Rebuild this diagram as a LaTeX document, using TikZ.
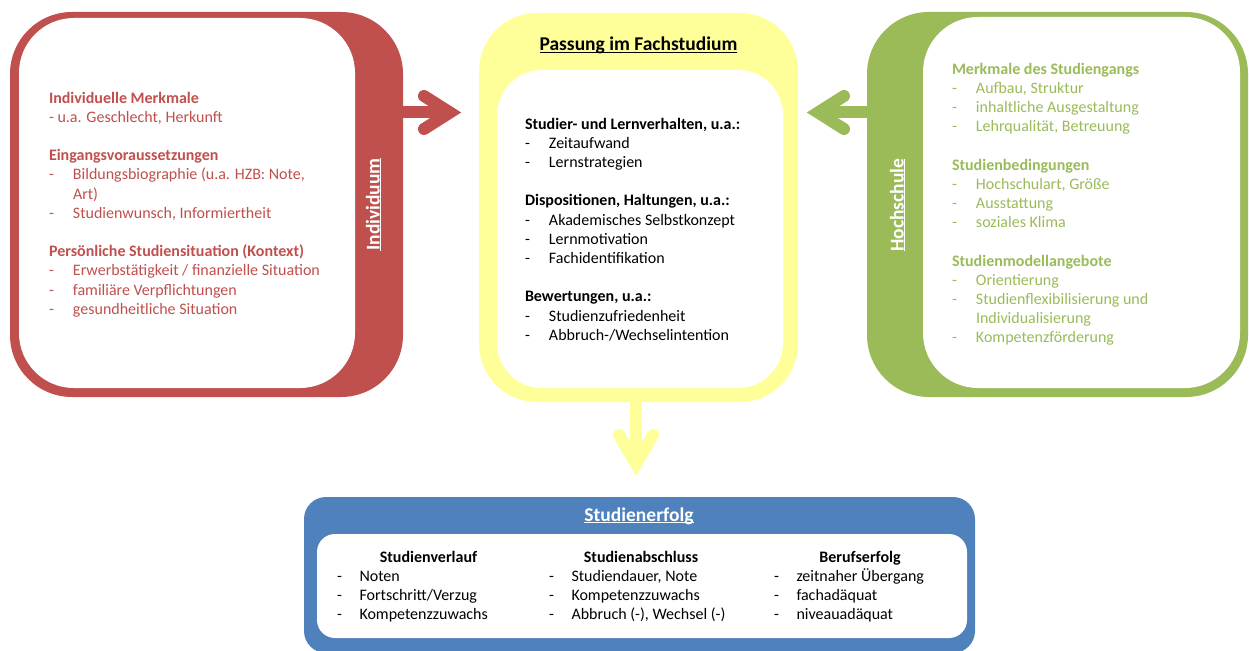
\documentclass[tikz,border=0pt]{standalone}
\usepackage{fontspec}
\setmainfont{Carlito}
\usetikzlibrary{calc}
\definecolor{cred}{HTML}{C0504D}
\definecolor{cgreen}{HTML}{9BBB59}
\definecolor{cyellow}{HTML}{FFFF99}
\definecolor{cblue}{HTML}{4F81BD}
\newcommand\myul[1]{\setbox0\hbox{#1}\rlap{\rule[-1.8pt]{\wd0}{1.2pt}}\box0}
\newcommand\bitem[2][24pt]{\makebox[#1][l]{-}#2}
\begin{document}
\begin{tikzpicture}[x=1pt,y=-1pt,
  box/.style={rectangle, inner sep=0pt, outer sep=0pt},
  body/.style={anchor=north west, inner sep=0pt, outer sep=0pt, align=left, font=\fontsize{16}{19.2}\selectfont},
  ttl/.style={inner sep=0pt, anchor=base, font=\fontsize{19.5}{23}\selectfont\bfseries},
  hdr/.style={inner sep=0pt, anchor=base, font=\fontsize{16}{19.2}\selectfont\bfseries},
  shaft/.style={line width=12pt},
  head/.style={line width=12pt, line cap=round, line join=miter}]
\useasboundingbox (0,0) rectangle (1249,650);
% boxes
\node[box, fill=cred, rounded corners=62pt, minimum width=393pt, minimum height=385pt] (ind) at (206.5,204.5) {};
\node[box, fill=white, rounded corners=55pt, minimum width=336pt, minimum height=370pt] (indin) at (187,203) {};
\node[box, fill=cyellow, rounded corners=58pt, minimum width=319pt, minimum height=389pt] (fach) at (638.5,207.5) {};
\node[box, fill=white, rounded corners=45pt, minimum width=286pt, minimum height=318pt] (fachin) at (640,229) {};
\node[box, fill=cgreen, rounded corners=62pt, minimum width=381pt, minimum height=385pt] (hoch) at (1057.5,204.5) {};
\node[box, fill=white, rounded corners=55pt, minimum width=317pt, minimum height=371pt] (hochin) at (1081.5,202.5) {};
\node[box, fill=cblue, rounded corners=22pt, minimum width=671pt, minimum height=156pt] (erf) at (639.5,575) {};
\node[box, fill=white, rounded corners=18pt, minimum width=650pt, minimum height=104pt] (erfin) at (642,586) {};
% arrows
\coordinate (rtip) at (450,112.5);
\coordinate (gtip) at (818,112.5);
\coordinate (ytip) at (636,464);
\draw[shaft, cred] (ind.east |- rtip) -- (rtip);
\draw[head, cred] ($(rtip)+(-26,-16.5)$) -- (rtip) -- ($(rtip)+(-26,16.5)$);
\draw[shaft, cgreen] (hoch.west |- gtip) -- (gtip);
\draw[head, cgreen] ($(gtip)+(26,-16.5)$) -- (gtip) -- ($(gtip)+(26,16.5)$);
\draw[shaft, cyellow] (ytip |- fach.south) -- (ytip);
\draw[head, cyellow] ($(ytip)+(-17,-29)$) -- (ytip) -- ($(ytip)+(17,-29)$);
% titles
\node[ttl] (t1) at (638.5,51) {\myul{Passung im Fachstudium}};
\node[ttl, text=white] (t2) at (639,521) {\myul{Studienerfolg}};
\node[ttl, text=white, rotate=90] (t3) at (379.5,204.5) {\myul{Individuum}};
\node[ttl, text=white, rotate=90] (t4) at (903.5,205) {\myul{Hochschule}};
% left text
\node[body, text=cred] (lt) at (49,89.56) {\begin{tabular}{@{}l@{}}
\textbf{Individuelle Merkmale}\\
- u.a. Geschlecht, Herkunft\\
\\
\textbf{Eingangsvoraussetzungen}\\
\bitem{Bildungsbiographie (u.a. HZB: Note,}\\
\hspace*{24pt}Art)\\
\bitem{Studienwunsch, Informiertheit}\\
\\
\textbf{Persönliche Studiensituation (Kontext)}\\
\bitem{Erwerbstätigkeit / finanzielle Situation}\\
\bitem{familiäre Verpflichtungen}\\
\bitem{gesundheitliche Situation}
\end{tabular}};
% middle text
\node[body] (mt) at (525,115.56) {\begin{tabular}{@{}l@{}}
\textbf{Studier- und Lernverhalten, u.a.:}\\
\bitem{Zeitaufwand}\\
\bitem{Lernstrategien}\\
\\
\textbf{Dispositionen, Haltungen, u.a.:}\\
\bitem{Akademisches Selbstkonzept}\\
\bitem{Lernmotivation}\\
\bitem{Fachidentifikation}\\
\\
\textbf{Bewertungen, u.a.:}\\
\bitem{Studienzufriedenheit}\\
\bitem{Abbruch-/Wechselintention}
\end{tabular}};
% right text
\node[body, text=cgreen] (rt) at (952,60.56) {\begin{tabular}{@{}l@{}}
\textbf{Merkmale des Studiengangs}\\
\bitem{Aufbau, Struktur}\\
\bitem{inhaltliche Ausgestaltung}\\
\bitem{Lehrqualität, Betreuung}\\
\\
\textbf{Studienbedingungen}\\
\bitem{Hochschulart, Größe}\\
\bitem{Ausstattung}\\
\bitem{soziales Klima}\\
\\
\textbf{Studienmodellangebote}\\
\bitem{Orientierung}\\
\bitem{Studienflexibilisierung und}\\
\hspace*{24pt}Individualisierung\\
\bitem{Kompetenzförderung}
\end{tabular}};
% bottom
\node[hdr] (h1) at (428.5,562) {Studienverlauf};
\node[hdr] (h2) at (641,562) {Studienabschluss};
\node[hdr] (h3) at (860,562) {Berufserfolg};
\node[body] (b1) at (337,567.56) {\begin{tabular}{@{}l@{}}
\bitem[22.5pt]{Noten}\\
\bitem[22.5pt]{Fortschritt/Verzug}\\
\bitem[22.5pt]{Kompetenzzuwachs}
\end{tabular}};
\node[body] (b2) at (549,567.56) {\begin{tabular}{@{}l@{}}
\bitem[22.5pt]{Studiendauer, Note}\\
\bitem[22.5pt]{Kompetenzzuwachs}\\
\bitem[22.5pt]{Abbruch (-), Wechsel (-)}
\end{tabular}};
\node[body] (b3) at (774,567.56) {\begin{tabular}{@{}l@{}}
\bitem[22.5pt]{zeitnaher Übergang}\\
\bitem[22.5pt]{fachadäquat}\\
\bitem[22.5pt]{niveauadäquat}
\end{tabular}};
\end{tikzpicture}
\end{document}
